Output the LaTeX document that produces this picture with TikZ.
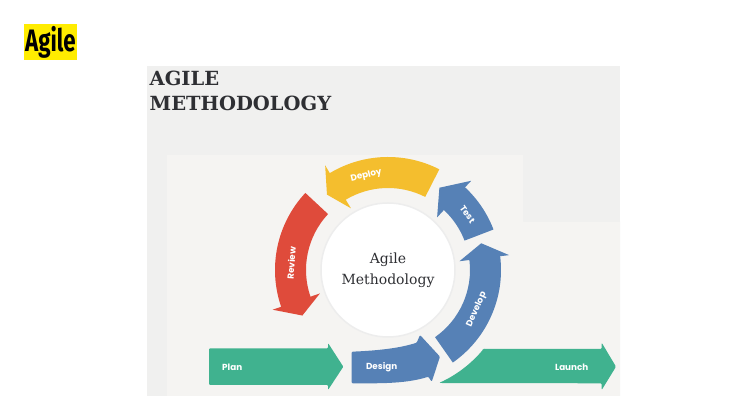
\documentclass[tikz,border=0pt]{standalone}
\usepackage{fontspec}
\setmainfont{DejaVu Serif}
\newfontfamily\tagfont{Fira Sans}[FakeStretch=0.72]
\newfontfamily\stepfont{Poppins}
\usetikzlibrary{positioning,calc}
\definecolor{cRed}{HTML}{DF4B3B}
\definecolor{cYellow}{HTML}{F4BE2E}
\definecolor{cBlue}{HTML}{5681B6}
\definecolor{cGreen}{HTML}{40B28F}
\definecolor{cPanel}{HTML}{F0F0EF}
\definecolor{cInner}{HTML}{F5F4F2}
\definecolor{cInk}{HTML}{2E2F33}
\definecolor{cTag}{HTML}{FFEC00}

\begin{document}
\begin{tikzpicture}[
  x=1pt,y=1pt,
  lbl/.style={text=white,inner sep=0pt,font=\stepfont\bfseries\fontsize{8.8}{10}\selectfont},
  flat/.style={rounded corners=1pt}
]
\useasboundingbox (0,0) rectangle (729,414);
\fill[white] (0,0) rectangle (729,414);
% tag and slide
\node[fill=cTag,minimum width=53pt,minimum height=36pt,inner sep=0pt,
      font=\tagfont\bfseries\fontsize{31}{31}\selectfont] (tag) at (50.5,372) {Agile};
\fill[cPanel] (147,18) rectangle (620,348);
\fill[cInner] (167,18) -- (167,259) -- (523,259) -- (523,192) -- (620,192) -- (620,18) -- cycle;
\node[anchor=north west,align=left,inner sep=0pt,text=cInk,
      font=\bfseries\fontsize{19.5}{25}\selectfont] (title) at (149.5,343) {AGILE\\METHODOLOGY};
% cycle
\node[circle,fill=white,draw=black!7,line width=1.5pt,minimum size=134pt,align=center,
      text=cInk,font=\fontsize{14}{21}\selectfont] (hub) at (388,144) {Agile\\Methodology};
\begin{scope}[shift={(hub.center)}]
\foreach \col/\ta/\tb/\tc/\pos/\rot/\txt/\nm in {
    cRed/137/199/208/176/86/Review/review,
    cYellow/63/121/129/103/13/Deploy/deploy,
    cBlue/21/47/58/35/-55/Test/test,
    cBlue/-55/7/16/-24/66/Develop/develop}
{
  \fill[\col] (\ta:82pt) arc[start angle=\ta,end angle=\tb,radius=82pt] -- (\tb:72pt) -- (\tc:97pt)
    -- (\tb:122pt) -- (\tb:113pt) arc[start angle=\tb,end angle=\ta,radius=113pt] -- cycle;
  \node[lbl,rotate=\rot] (\nm) at (\pos:97pt) {\txt};
}
\end{scope}
% bottom row
\fill[cGreen,flat] (209,65.7) -- (328,65.7) -- (328,71) -- (343.3,47.3) -- (328,24) -- (328,29) -- (209,29) -- cycle;
\node[lbl,anchor=west] (plan) at (222,47) {Plan};
\fill[cBlue,flat] (351.7,62.3) .. controls (380,63.5) and (400,66) .. (416.7,71.3) -- (420,79) -- (440,57.3)
  -- (431.7,32.3) -- (428.3,37.3) .. controls (412,32) and (392,30.7) .. (370,30.7) -- (351.7,30.7) -- cycle;
\node[lbl] (design) at (381.7,47) {Design};
\fill[cGreen,flat] (483.6,65) -- (601.7,65) -- (601.7,71.3) -- (616,47.3) -- (601.7,24) -- (601.7,30.7)
  -- (439,31) arc[start angle=-65.7,end angle=-39.6,radius=124pt] -- cycle;
\node[lbl] (launch) at (571.7,47) {Launch};
\end{tikzpicture}
\end{document}
